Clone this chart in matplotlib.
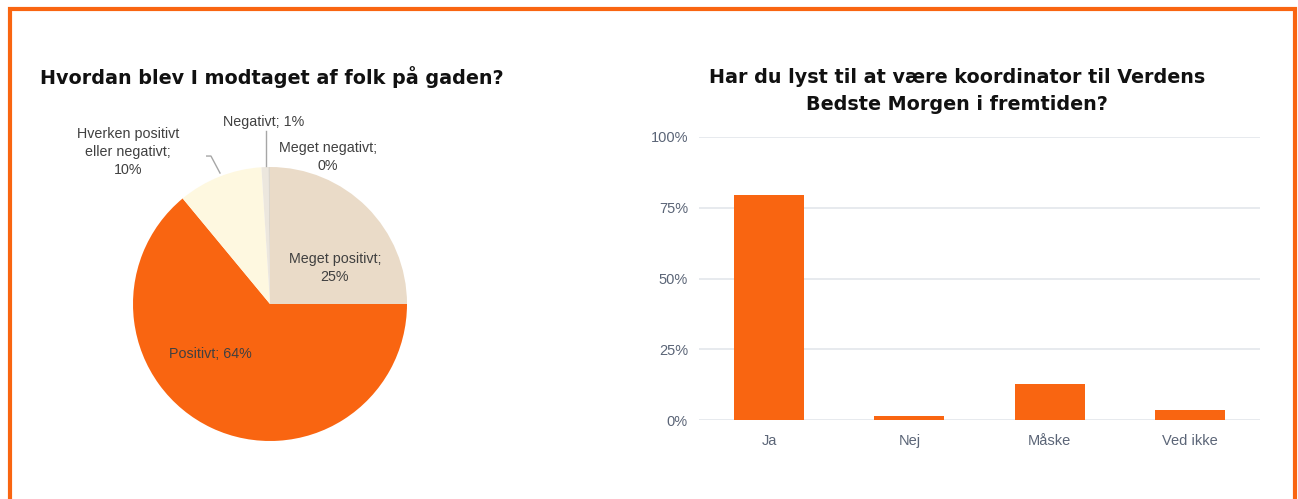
import matplotlib.pyplot as plt
from matplotlib.patches import Rectangle

# pie data
pie_labels = ["Meget positivt", "Positivt", "Hverken positivt\neller negativt", "Negativt", "Meget negativt"]
pie_values = [25, 64, 10, 0.8, 0.2]
pie_pct = ["25%", "64%", "10%", "1%", "0%"]
pie_colors = ["#EADBC8", "#F96511", "#FEF8E0", "#ECE7DE", "#DCD6CC"]

# bar data
bar_cats = ["Ja", "Nej", "Måske", "Ved ikke"]
bar_vals = [0.795, 0.015, 0.128, 0.036]
y_ticks = [0, 0.25, 0.5, 0.75, 1.0]
y_ticklabels = ["0%", "25%", "50%", "75%", "100%"]

orange = "#F96511"
txt = "#404040"
tick_col = "#5B6577"
lab_font = ["Liberation Sans", "DejaVu Sans"]
title_font = ["DejaVu Sans"]

W, H = 1298, 499
fig = plt.figure(figsize=(W / 100, H / 100), dpi=100)

# orange frame, open at the bottom
fig.patches.append(Rectangle((10 / W, -0.1), (1295 - 10) / W, 1.1 - 9 / H,
                             transform=fig.transFigure, fill=False,
                             edgecolor=orange, lw=3))

# ---- pie ----
cx, cy, r = 270, 304, 137
axp = fig.add_axes([(cx - r) / W, (H - cy - r) / H, 2 * r / W, 2 * r / H])
axp.pie(pie_values, colors=pie_colors, startangle=90, counterclock=False,
        radius=1, wedgeprops=dict(linewidth=0))
axp.set_xlim(-1, 1)
axp.set_ylim(-1, 1)
axp.set_aspect("auto")
axp.axis("off")

lab_kw = dict(fontsize=10.3, color=txt, family=lab_font, ha="center", va="center",
              linespacing=1.35)
axp.text(0.474, 0.263, pie_labels[0] + ";\n" + pie_pct[0], **lab_kw)
axp.text(-0.438, -0.365, pie_labels[1] + "; " + pie_pct[1], **lab_kw)
axp.text(-1.036, 1.109, pie_labels[2] + ";\n" + pie_pct[2], **lab_kw)
axp.text(-0.044, 1.328, pie_labels[3] + "; " + pie_pct[3], **lab_kw)
axp.text(0.423, 1.073, pie_labels[4] + ";\n" + pie_pct[4], **lab_kw)
# leader lines
axp.plot([-0.462, -0.431, -0.365], [1.080, 1.080, 0.956], color="#A6A6A6",
         lw=1, clip_on=False)
axp.plot([-0.030, -0.030], [1.265, 1.005], color="#A6A6A6", lw=1, clip_on=False)

fig.text(40 / W, 1 - 77 / H, "Hvordan blev I modtaget af folk på gaden?",
         fontsize=13.8, fontweight="bold", family=title_font, color="#111111",
         ha="left", va="center")

# ---- bars ----
x0, x1, ytop, ybot = 699, 1260, 137, 420
axb = fig.add_axes([x0 / W, (H - ybot) / H, (x1 - x0) / W, (ybot - ytop) / H])
xs = range(len(bar_cats))
axb.bar(xs, bar_vals, width=0.5, color=orange, zorder=3)
axb.set_xlim(-0.5, len(bar_cats) - 0.5)
axb.set_ylim(0, 1.0)
axb.set_yticks(y_ticks)
axb.set_yticklabels(y_ticklabels)
axb.set_xticks(list(xs))
axb.set_xticklabels(bar_cats)
axb.grid(axis="y", color="#E3E6EB", lw=1.2, zorder=0)
axb.tick_params(length=0, labelsize=10.5, labelcolor=tick_col, pad=10)
axb.tick_params(axis="y", pad=8)
for lbl in axb.get_xticklabels() + axb.get_yticklabels():
    lbl.set_family(lab_font)
for s in axb.spines.values():
    s.set_visible(False)
axb.set_axisbelow(True)

fig.text(957 / W, 1 - 91 / H,
         "Har du lyst til at være koordinator til Verdens\nBedste Morgen i fremtiden?",
         fontsize=13.8, fontweight="bold", family=title_font, color="#111111",
         ha="center", va="center", linespacing=1.55)

fig.savefig("out.png", dpi=100)
